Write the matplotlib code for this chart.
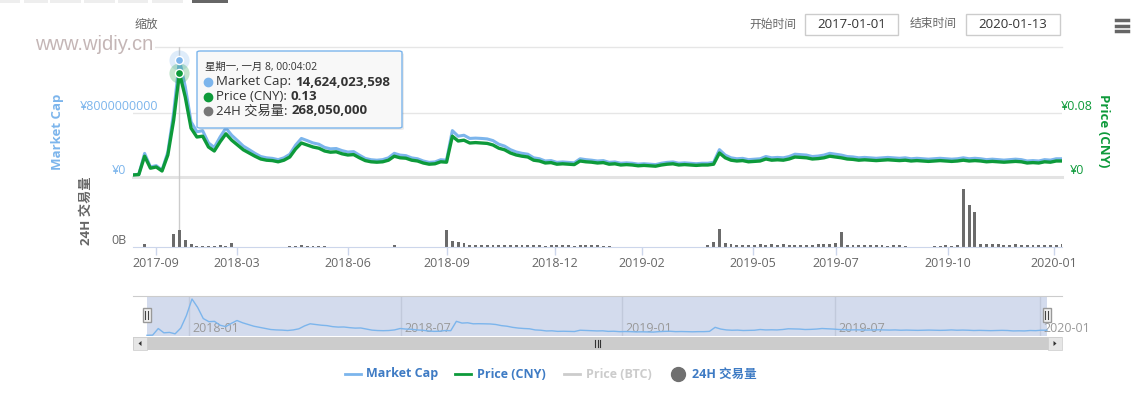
import matplotlib
matplotlib.use("Agg")
import matplotlib.pyplot as plt
import numpy as np
from matplotlib.patches import Rectangle, FancyBboxPatch, Polygon
from matplotlib.lines import Line2D

plt.rcParams['font.family'] = ['Open Sans', 'Noto Sans CJK SC', 'DejaVu Sans']

W, H = 1131, 395

# ---- data (ordinal axis: one value per point) ----
price_cny = [
    0.0025, 0.003, 0.026, 0.011, 0.0125, 0.0075, 0.0275, 0.071, 0.13, 0.1,
    0.061, 0.05, 0.051, 0.0375, 0.0325, 0.044, 0.054, 0.046, 0.04, 0.034,
    0.03, 0.026, 0.0225, 0.021, 0.0205, 0.019, 0.021, 0.025, 0.035, 0.0425,
    0.04, 0.0375, 0.036, 0.0325, 0.031, 0.0315, 0.029, 0.0275, 0.028, 0.024,
    0.0205, 0.019, 0.0185, 0.019, 0.021, 0.026, 0.024, 0.0235, 0.021, 0.02,
    0.0175, 0.016, 0.0165, 0.019, 0.0185, 0.051, 0.045, 0.046, 0.0425, 0.043,
    0.0425, 0.042, 0.04, 0.036, 0.034, 0.03, 0.0275, 0.026, 0.025, 0.021,
    0.02, 0.0175, 0.018, 0.016, 0.0165, 0.016, 0.0155, 0.02, 0.019, 0.0185,
    0.0175, 0.018, 0.016, 0.0165, 0.015, 0.0155, 0.015, 0.014, 0.0145, 0.014,
    0.0135, 0.015, 0.016, 0.0165, 0.015, 0.0155, 0.015, 0.0145, 0.015, 0.015,
    0.016, 0.03, 0.024, 0.021, 0.02, 0.0205, 0.019, 0.0195, 0.02, 0.0225,
    0.021, 0.0215, 0.021, 0.0225, 0.025, 0.0245, 0.024, 0.0225, 0.023, 0.024,
    0.026, 0.025, 0.024, 0.0225, 0.022, 0.021, 0.0215, 0.021, 0.0205, 0.021,
    0.0215, 0.021, 0.0205, 0.021, 0.02, 0.0205, 0.02, 0.0195, 0.02, 0.0205,
    0.02, 0.0195, 0.02, 0.021, 0.02, 0.0205, 0.02, 0.019, 0.0195, 0.019,
    0.0185, 0.019, 0.0195, 0.019, 0.0175, 0.018, 0.0175, 0.019, 0.0185, 0.02,
    0.02,
]

market_cap_bn = [
    0.28, 0.34, 2.95, 1.26, 1.42, 0.86, 3.12, 8.05, 14.62, 11.3,
    6.9, 5.66, 5.78, 4.26, 3.7, 5.0, 6.12, 5.22, 4.55, 3.86,
    3.42, 2.96, 2.56, 2.4, 2.33, 2.17, 2.4, 2.84, 3.98, 4.82,
    4.55, 4.26, 4.1, 3.7, 3.52, 3.56, 3.3, 3.12, 3.17, 2.73,
    2.32, 2.16, 2.1, 2.17, 2.4, 2.96, 2.74, 2.67, 2.39, 2.28,
    2.0, 1.83, 1.88, 2.16, 2.1, 5.8, 5.1, 5.22, 4.82, 4.86,
    4.82, 4.76, 4.55, 4.1, 3.86, 3.42, 3.13, 2.96, 2.85, 2.4,
    2.28, 2.0, 2.05, 1.83, 1.88, 1.83, 1.77, 2.28, 2.17, 2.1,
    2.0, 2.05, 1.83, 1.88, 1.72, 1.77, 1.72, 1.61, 1.66, 1.6,
    1.55, 1.72, 1.83, 1.88, 1.72, 1.77, 1.72, 1.66, 1.72, 1.72,
    1.83, 3.42, 2.74, 2.4, 2.28, 2.33, 2.17, 2.22, 2.28, 2.56,
    2.4, 2.45, 2.4, 2.56, 2.85, 2.79, 2.74, 2.56, 2.62, 2.74,
    2.96, 2.85, 2.74, 2.56, 2.51, 2.4, 2.45, 2.4, 2.34, 2.4,
    2.45, 2.4, 2.34, 2.4, 2.28, 2.34, 2.28, 2.23, 2.28, 2.34,
    2.28, 2.23, 2.28, 2.4, 2.28, 2.34, 2.28, 2.17, 2.23, 2.17,
    2.11, 2.17, 2.23, 2.17, 2.0, 2.05, 2.0, 2.17, 2.11, 2.28,
    2.28,
]

volume_m = [
    0, 0, 45, 0, 5, 0, 0, 200, 268.05, 110,
    47, 16, 14, 16, 8, 30, 12, 63, 4, 3,
    0, 3, 0, 2, 0, 3, 0, 18, 20, 25,
    22, 15, 20, 8, 3, 0, 2, 0, 3, 0,
    2, 0, 3, 0, 2, 30, 0, 3, 0, 2,
    0, 3, 0, 5, 270, 95, 80, 60, 35, 32,
    30, 28, 32, 30, 28, 30, 27, 30, 26, 28,
    25, 15, 28, 30, 26, 28, 20, 30, 28, 25,
    28, 22, 10, 0, 0, 2, 0, 0, 0, 0,
    0, 0, 0, 0, 0, 0, 0, 0, 0, 25,
    80, 285, 60, 40, 35, 32, 35, 38, 40, 35,
    42, 38, 40, 35, 32, 38, 30, 35, 45, 40,
    55, 60, 235, 35, 30, 32, 28, 30, 25, 28,
    22, 30, 25, 20, 0, 5, 0, 0, 8, 16,
    24, 22, 35, 915, 660, 550, 47, 45, 40, 42,
    38, 35, 40, 38, 35, 38, 33, 36, 32, 30,
    40,
]

x_ticks = [3.96, 17.9, 37.0, 54.1, 72.7, 87.7, 106.8, 121.1, 140.4, 158.6]
x_labels = ['2017-09', '2018-03', '2018-06', '2018-09', '2018-12',
            '2019-02', '2019-05', '2019-07', '2019-10', '2020-01']
nav_ticks = [7.47, 45.2, 84.4, 122.3, 158.8]
nav_labels = ['2018-01', '2018-07', '2019-01', '2019-07', '2020-01']

peak = 8
tip_date = '星期一, 一月 8, 00:04:02'
tip_rows = [('Market Cap:', '14,624,023,598'),
            ('Price (CNY):', '0.13'),
            ('24H 交易量:', '268,050,000')]

BLUE = '#7cb5ec'
GREEN = '#0d9a3a'
BAR = '#6b6b6b'
LEG = '#3e7bc4'


def fx(px):
    return px / W


def fy(py):
    return 1 - py / H


def box(x0, y0, x1, y1):
    return [fx(x0), fy(y1), (x1 - x0) / W, (y1 - y0) / H]


def frect(x0, y0, x1, y1, **kw):
    r = Rectangle((fx(x0), fy(y1)), (x1 - x0) / W, (y1 - y0) / H,
                  transform=fig.transFigure, **kw)
    fig.add_artist(r)
    return r


def fline(xs, ys, **kw):
    l = Line2D([fx(v) for v in xs], [fy(v) for v in ys],
               transform=fig.transFigure, **kw)
    fig.add_artist(l)
    return l


fig = plt.figure(figsize=(W / 100, H / 100), dpi=100)
n = len(price_cny)
x = np.arange(n)
mc = np.array(market_cap_bn) * 1e9
vol = np.array(volume_m) * 1e6

# main panel: market cap + price
ax = fig.add_axes(box(133, 47, 1062, 177))
ax.set_xlim(0, n - 1)
ax.set_ylim(0, 16.25e9)
ax.axis('off')
ax.axhline(8e9, color='#e6e6e6', lw=1, zorder=0)
ax.axhline(16.25e9, color='#e6e6e6', lw=1, zorder=0, clip_on=False)
ax.axhline(0, color='#e3e3e3', lw=2.2, zorder=0, clip_on=False)
ax.axvline(peak, color='#cccccc', lw=1, zorder=1)
ax.plot(x, mc, color=BLUE, lw=2.2, solid_joinstyle='round')

ax2 = ax.twinx()
ax2.set_ylim(0, 0.1625)
ax2.axis('off')
ax2.plot(x, price_cny, color=GREEN, lw=2.4, solid_joinstyle='round')
# hover markers (market cap drawn in price units: 16.25e9 <-> 0.1625)
ax2.scatter([peak], [mc[peak] / 1e11], s=210, color=BLUE, alpha=0.25, lw=0, zorder=5)
ax2.scatter([peak], [mc[peak] / 1e11], s=34, color=BLUE, edgecolor='white', lw=1, zorder=6)
ax2.scatter([peak], [price_cny[peak]], s=210, color=GREEN, alpha=0.25, lw=0, zorder=5)
ax2.scatter([peak], [price_cny[peak]], s=34, color=GREEN, edgecolor='white', lw=1, zorder=6)

# volume panel
axv = fig.add_axes(box(133, 177, 1062, 247))
axv.patch.set_visible(False)
axv.set_xlim(0, n - 1)
axv.set_ylim(0, 1104e6)
axv.axvline(peak, color='#cccccc', lw=1, zorder=0)
axv.bar(x, vol, width=0.5, color=BAR, lw=0)
for s in ['top', 'left', 'right']:
    axv.spines[s].set_visible(False)
axv.spines['bottom'].set_color('#ccd6eb')
axv.set_yticks([])
axv.set_xticks(x_ticks, x_labels)
axv.tick_params(axis='x', length=5.8, width=1, color='#ccd6eb',
                labelsize=9, labelcolor='#666666', pad=1.5)

# axis texts
fig.text(fx(118.5), fy(106), '¥8000000000', ha='center', va='center', color=BLUE, fontsize=9)
fig.text(fx(118.5), fy(171), '¥0', ha='center', va='center', color=BLUE, fontsize=9)
fig.text(fx(1077), fy(107), '¥0.08', ha='center', va='center', color=GREEN, fontsize=9)
fig.text(fx(1077), fy(171), '¥0', ha='center', va='center', color=GREEN, fontsize=9)
fig.text(fx(118.5), fy(241), '0B', ha='center', va='center', color='#666666', fontsize=9)
fig.text(fx(58), fy(132), 'Market Cap', rotation=90, ha='center', va='center',
         color=BLUE, fontsize=9.5, fontweight='bold')
fig.text(fx(1103), fy(131), 'Price (CNY)', rotation=270, ha='center', va='center',
         color=GREEN, fontsize=9.5, fontweight='bold')
fig.text(fx(86), fy(211), '24H 交易量', rotation=90, ha='center', va='center',
         color='#666666', fontsize=9.5, fontweight='bold')

# top controls
for x0, x1 in [(0, 20), (24, 48), (50, 81), (84, 115), (118, 148), (152, 183)]:
    frect(x0, -5, x1, 3, fc='#eeeeee', lw=0)
frect(192, -5, 228, 3, fc='#666666', lw=0)
fig.text(fx(146), fy(24), '缩放', ha='center', va='center', color='#666666', fontsize=8.5)
fig.text(fx(35), fy(45), 'www.wjdiy.cn', ha='left', va='center', color='#c4b6b6',
         fontsize=14.5, family='Liberation Sans', zorder=6,
         bbox=dict(fc='white', ec='none', pad=1))
fig.text(fx(796), fy(24), '开始时间', ha='right', va='center', color='#666666', fontsize=8.5)
frect(805, 14, 898, 35, fc='white', ec='#cccccc', lw=1)
fig.text(fx(851.5), fy(24.5), '2017-01-01', ha='center', va='center', color='#333333', fontsize=9.5)
fig.text(fx(957), fy(24), '结束时间', ha='right', va='center', color='#666666', fontsize=8.5)
frect(966, 14, 1060, 35, fc='white', ec='#cccccc', lw=1)
fig.text(fx(1013), fy(24.5), '2020-01-13', ha='center', va='center', color='#333333', fontsize=9.5)
for yy in (20, 25.5, 31):
    fline([1116, 1128], [yy, yy], color='#666666', lw=2.5)

# tooltip
shadow = FancyBboxPatch((fx(199), fy(130)), 205 / W, 77 / H,
                        boxstyle='round,pad=0,rounding_size=0.003',
                        transform=fig.transFigure, fc='black', ec='none', alpha=0.08, zorder=19)
fig.add_artist(shadow)
tip = FancyBboxPatch((fx(197), fy(128)), 205 / W, 77 / H,
                     boxstyle='round,pad=0,rounding_size=0.003',
                     transform=fig.transFigure, fc='#f8f8f8', ec=BLUE, lw=1, zorder=20)
fig.add_artist(tip)
fig.text(fx(205), fy(67), tip_date, ha='left', va='center', color='#333333', fontsize=7.5, zorder=21)
renderer = fig.canvas.get_renderer()
for (label, value), yy, c in zip(tip_rows, [82, 97, 111], [BLUE, GREEN, '#777777']):
    fline([208], [yy], marker='o', ms=6, color=c, lw=0, zorder=21)
    t = fig.text(fx(216), fy(yy), label, ha='left', va='center', color='#333333', fontsize=9.5, zorder=21)
    bb = t.get_window_extent(renderer=renderer)
    fig.text(bb.x1 / W + 4 / W, fy(yy), value, ha='left', va='center', color='#333333',
             fontsize=9.5, fontweight='bold', zorder=21)

# navigator
axn = fig.add_axes(box(133, 296, 1062, 336))
axn.set_xlim(-2.49, 162.67)
axn.set_ylim(0, 15.8e9)
axn.set_xticks([])
axn.set_yticks([])
for s in ['bottom', 'left', 'right']:
    axn.spines[s].set_visible(False)
axn.spines['top'].set_color('#cccccc')
axn.axvspan(0, n - 1, color='#d3dbed', lw=0, zorder=0)
for p, lab in zip(nav_ticks, nav_labels):
    axn.axvline(p, color='#c1c9db', lw=1, zorder=1)
    axn.text(p + 0.6, 7 / 40, lab, transform=axn.get_xaxis_transform(),
             color='#999999', fontsize=9, va='center', ha='left', zorder=1)
axn.plot(x, mc, color=BLUE, lw=1, zorder=2)

for hx in (146.5, 1046.5):
    frect(hx - 4, 308, hx + 4, 322, fc='#f2f2f2', ec='#999999', lw=1, zorder=5)
    fline([hx - 1.2, hx - 1.2], [311, 319], color='#444444', lw=0.8, zorder=6)
    fline([hx + 1.2, hx + 1.2], [311, 319], color='#444444', lw=0.8, zorder=6)

# scrollbar
frect(133, 337, 1062, 350, fc='#cccccc', lw=0)
frect(133, 337, 147, 350, fc='#e6e6e6', ec='#cccccc', lw=0.5)
frect(1048, 337, 1062, 350, fc='#e6e6e6', ec='#cccccc', lw=0.5)
fig.add_artist(Polygon([(fx(138.5), fy(343.5)), (fx(141.5), fy(341)), (fx(141.5), fy(346))],
                       closed=True, transform=fig.transFigure, fc='#333333', lw=0))
fig.add_artist(Polygon([(fx(1056.5), fy(343.5)), (fx(1053.5), fy(341)), (fx(1053.5), fy(346))],
                       closed=True, transform=fig.transFigure, fc='#333333', lw=0))
for gx in (595, 597.5, 600):
    fline([gx, gx], [340, 347], color='#333333', lw=0.8)

# legend
fline([345, 361], [374, 374], color=BLUE, lw=2)
fig.text(fx(366), fy(374), 'Market Cap', ha='left', va='center', color=LEG, fontsize=9, fontweight='bold')
fline([455, 471], [374, 374], color=GREEN, lw=2)
fig.text(fx(477), fy(374), 'Price (CNY)', ha='left', va='center', color=LEG, fontsize=9, fontweight='bold')
fline([564, 580], [374, 374], color='#cccccc', lw=2)
fig.text(fx(586), fy(374), 'Price (BTC)', ha='left', va='center', color='#cccccc', fontsize=9, fontweight='bold')
fline([678], [374], marker='o', ms=10, color='#707070', lw=0)
fig.text(fx(692), fy(374), '24H 交易量', ha='left', va='center', color=LEG, fontsize=9, fontweight='bold')

fig.savefig('out.png', dpi=100)
